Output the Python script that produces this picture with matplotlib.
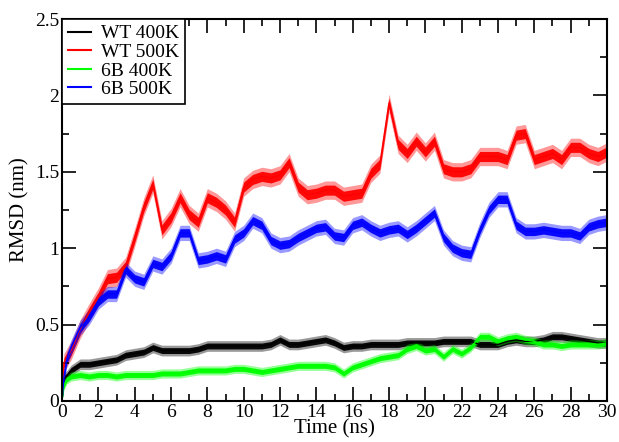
import numpy as np
import matplotlib
matplotlib.use("Agg")
import matplotlib.pyplot as plt
from matplotlib.ticker import MultipleLocator, FormatStrFormatter

plt.rcParams['font.family'] = ['Liberation Serif', 'DejaVu Serif']

# time axis (ns)
time = np.concatenate([[0.0, 0.1, 0.25], np.arange(0.5, 30.01, 0.5)])

wt_400 = [0.00, 0.15, 0.16, 0.20, 0.24, 0.24, 0.25, 0.26, 0.27, 0.30,
          0.31, 0.32, 0.35, 0.33, 0.33, 0.33, 0.33, 0.34, 0.36, 0.36,
          0.36, 0.36, 0.36, 0.36, 0.36, 0.37, 0.40, 0.37, 0.37, 0.38,
          0.39, 0.40, 0.38, 0.35, 0.36, 0.36, 0.37, 0.37, 0.37, 0.37,
          0.38, 0.38, 0.38, 0.38, 0.39, 0.39, 0.39, 0.39, 0.37, 0.37,
          0.37, 0.39, 0.40, 0.39, 0.39, 0.40, 0.42, 0.42, 0.41, 0.40,
          0.39, 0.38, 0.38]

wt_500 = [0.00, 0.25, 0.28, 0.33, 0.47, 0.58, 0.68, 0.80, 0.81, 0.88,
          1.07, 1.27, 1.42, 1.12, 1.20, 1.33, 1.22, 1.17, 1.33, 1.30,
          1.25, 1.17, 1.40, 1.45, 1.47, 1.46, 1.48, 1.56, 1.40, 1.35,
          1.36, 1.38, 1.38, 1.34, 1.35, 1.36, 1.49, 1.55, 1.95, 1.68,
          1.62, 1.70, 1.63, 1.70, 1.52, 1.50, 1.50, 1.52, 1.60, 1.60,
          1.60, 1.58, 1.74, 1.75, 1.58, 1.60, 1.62, 1.58, 1.66, 1.66,
          1.62, 1.60, 1.63]

b6_400 = [0.00, 0.10, 0.14, 0.16, 0.17, 0.16, 0.17, 0.17, 0.16, 0.17,
          0.17, 0.17, 0.17, 0.18, 0.18, 0.18, 0.19, 0.20, 0.20, 0.20,
          0.20, 0.21, 0.21, 0.20, 0.19, 0.20, 0.21, 0.22, 0.23, 0.23,
          0.23, 0.23, 0.22, 0.18, 0.22, 0.24, 0.26, 0.28, 0.29, 0.30,
          0.34, 0.36, 0.33, 0.34, 0.29, 0.34, 0.31, 0.35, 0.42, 0.42,
          0.39, 0.41, 0.42, 0.40, 0.39, 0.37, 0.37, 0.36, 0.37, 0.37,
          0.37, 0.37, 0.38]

b6_500 = [0.00, 0.15, 0.27, 0.35, 0.48, 0.55, 0.65, 0.70, 0.70, 0.86,
          0.80, 0.78, 0.90, 0.88, 0.95, 1.10, 1.10, 0.92, 0.93, 0.95,
          0.93, 1.06, 1.10, 1.18, 1.15, 1.05, 1.02, 1.03, 1.07, 1.10,
          1.13, 1.14, 1.08, 1.07, 1.15, 1.17, 1.13, 1.10, 1.12, 1.13,
          1.09, 1.13, 1.18, 1.23, 1.07, 1.00, 0.97, 0.96, 1.12, 1.25,
          1.32, 1.32, 1.15, 1.11, 1.11, 1.12, 1.11, 1.10, 1.10, 1.08,
          1.14, 1.16, 1.17]

# typical fluctuation amplitude of each run
spread = [0.035, 0.06, 0.03, 0.05]

labels = ['WT 400K', 'WT 500K', '6B 400K', '6B 500K']
colors = ['black', 'red', '#00ff00', 'blue']
series = [wt_400, wt_500, b6_400, b6_500]

fig = plt.figure(figsize=(6.19, 4.42), dpi=100)
ax = fig.add_axes([0.1002, 0.0928, 0.8804, 0.8642])

for y, s, c, lab in zip(series, spread, colors, labels):
    y = np.array(y)
    # faint outer envelope, solid core
    ax.fill_between(time, np.clip(y - s, 0, None), y + s,
                    color=c, lw=0, alpha=0.4)
    ax.fill_between(time, np.clip(y - 0.55 * s, 0, None), y + 0.55 * s,
                    color=c, lw=0, alpha=0.95)
    ax.plot(time, y, color=c, lw=1.0, label=lab)

ax.set_xlim(0, 30)
ax.set_ylim(0, 2.5)
ax.xaxis.set_major_locator(MultipleLocator(2))
ax.xaxis.set_minor_locator(MultipleLocator(1))
ax.yaxis.set_major_locator(MultipleLocator(0.5))
ax.yaxis.set_minor_locator(MultipleLocator(0.25))
ax.yaxis.set_major_formatter(FormatStrFormatter('%g'))
ax.tick_params(which='both', direction='in', top=True, right=True,
               labelsize=14, width=1.2)
ax.tick_params(which='major', length=10, pad=2)
ax.tick_params(which='minor', length=5)
for sp in ax.spines.values():
    sp.set_linewidth(1.5)

ax.set_xlabel('Time (ns)', fontsize=15, labelpad=-1)
ax.set_ylabel('RMSD (nm)', fontsize=15, labelpad=4)

leg = ax.legend(loc='upper left', borderaxespad=0, fancybox=False,
                framealpha=1, edgecolor='black', fontsize=14,
                handlelength=1.2, handletextpad=0.5, labelspacing=0.05,
                borderpad=0.3)
leg.get_frame().set_linewidth(1.2)
for line in leg.get_lines():
    line.set_linewidth(1.5)

fig.savefig('out.png', dpi=100)
